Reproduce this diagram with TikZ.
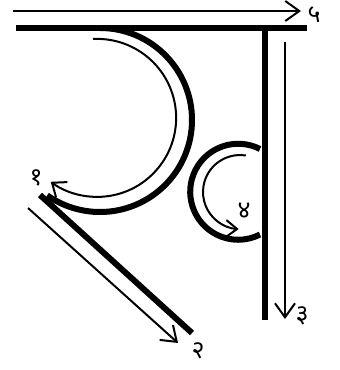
\documentclass[tikz,border=0pt]{standalone}
\usepackage{fontspec}
\newfontfamily\devfont[Script=Devanagari]{Noto Sans}
\usetikzlibrary{arrows.meta}
\tikzset{
  strokeline/.style={line width=6pt, line cap=butt},
  guide/.style={line width=2pt, -{Straight Barb[length=14pt,width=20pt,line width=2pt]}},
  numlabel/.style={font=\devfont\fontsize{25}{25}\selectfont, inner sep=0pt}
}
\begin{document}
\begin{tikzpicture}[x=1pt,y=-1pt]
\useasboundingbox (0,0) rectangle (340,370);
% coordinates
\coordinate (barL) at (16,28);
\coordinate (barR) at (307,28);
\coordinate (vTop) at (265,28);
\coordinate (vBot) at (265,320);
\coordinate (arcS) at (100,28);
\coordinate (diagS) at (40,195);
\coordinate (diagE) at (192,333);
\coordinate (cS) at (260,149);
% thick strokes
\draw[strokeline] (barL) -- (barR);
\draw[strokeline] (vTop) -- (vBot);
\draw[strokeline] (arcS) arc[start angle=-90, end angle=125, radius=92];
\draw[strokeline] (diagS) -- (diagE);
\draw[strokeline] (cS) arc[start angle=-63, end angle=-297, radius=48];
% guide arrows
\coordinate (g5s) at (13,11);
\coordinate (g5e) at (301,11);
\draw[guide] (g5s) -- (g5e);
\coordinate (g3s) at (285,42);
\coordinate (g3e) at (285,319);
\draw[guide] (g3s) -- (g3e);
\coordinate (g2s) at (28,208);
\coordinate (g2e) at (178,343);
\draw[guide] (g2s) -- (g2e);
\coordinate (g1s) at (93,39);
\draw[guide, -{Straight Barb[length=12pt,width=19pt,line width=2pt]}] (g1s) arc[start angle=-93, end angle=126, radius=79];
\coordinate (g4s) at (245.8,155.5);
\draw[guide, -{Straight Barb[length=11pt,width=17pt,line width=2pt]}] (g4s) arc[start angle=-81, end angle=-268, radius=37];
% labels
\node[numlabel] (n1) at (36,178) {१};
\node[numlabel] (n2) at (198,351) {२};
\node[numlabel] (n3) at (302,316) {३};
\node[numlabel] (n4) at (244,211) {४};
\node[numlabel] (n5) at (314,15) {५};
\end{tikzpicture}
\end{document}
